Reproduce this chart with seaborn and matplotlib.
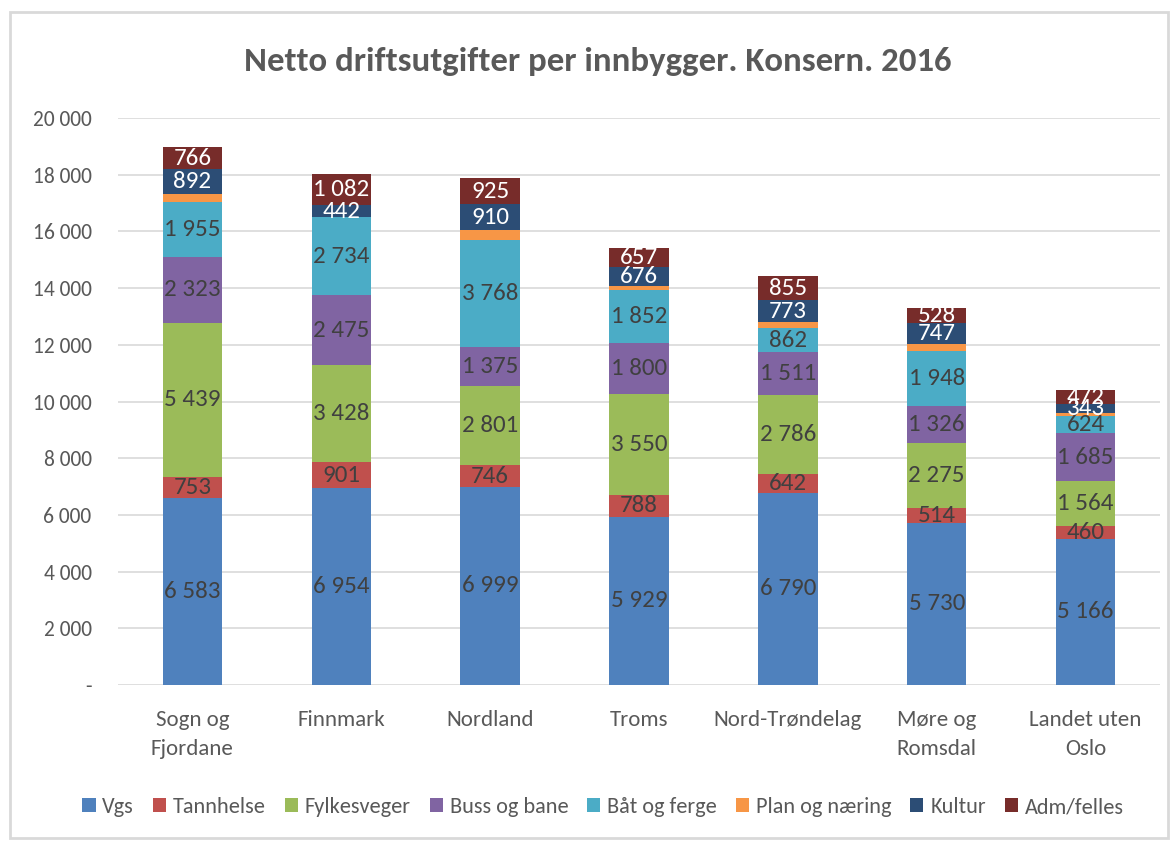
import numpy as np
import pandas as pd
import matplotlib
matplotlib.use("Agg")
import matplotlib.pyplot as plt
import seaborn as sns
from matplotlib.patches import Rectangle, Patch

# data
counties = ["Sogn og\nFjordane", "Finnmark", "Nordland", "Troms",
            "Nord-Trøndelag", "Møre og\nRomsdal", "Landet uten\nOslo"]
series = ["Vgs", "Tannhelse", "Fylkesveger", "Buss og bane",
          "Båt og ferge", "Plan og næring", "Kultur", "Adm/felles"]
vgs = [6583, 6954, 6999, 5929, 6790, 5730, 5166]
tannhelse = [753, 901, 746, 788, 642, 514, 460]
fylkesveger = [5439, 3428, 2801, 3550, 2786, 2275, 1564]
buss = [2323, 2475, 1375, 1800, 1511, 1326, 1685]
baat = [1955, 2734, 3768, 1852, 862, 1948, 624]
plan = [250, 0, 360, 150, 200, 230, 80]      # unlabeled, estimated
kultur = [892, 442, 910, 676, 773, 747, 343]
adm = [766, 1082, 925, 657, 855, 528, 472]
yticks = [0, 2000, 4000, 6000, 8000, 10000, 12000, 14000, 16000, 18000, 20000]

COLORS = ["#4F81BD", "#C0504D", "#9BBB59", "#8064A2",
          "#4BACC6", "#F79646", "#2C4D75", "#772C2A"]
LABEL_COLORS = ["#404040"] * 5 + [None, "white", "white"]
GREY = "#595959"

sns.set_theme(style="white")
plt.rcParams["font.family"] = ["Carlito", "DejaVu Sans"]

values = [vgs, tannhelse, fylkesveger, buss, baat, plan, kultur, adm]
df = pd.DataFrame({s: v for s, v in zip(series, values)})
df["county"] = counties


def fmt(v):
    return f"{v:,}".replace(",", " ")


fig = plt.figure(figsize=(11.71, 8.41), dpi=100)
ax = fig.add_axes([118 / 1171, 1 - 685 / 841, 1042 / 1171, 567 / 841])

# outer frame of the chart area
fig.patches.append(Rectangle((10 / 1171, 3 / 841), 1158 / 1171, 826 / 841,
                             transform=fig.transFigure, fill=False,
                             edgecolor="#d9d9d9", linewidth=2))

bottom = np.zeros(len(counties))
for i, s in enumerate(series):
    sns.barplot(data=df, x="county", y=s, color=COLORS[i], bottom=bottom,
                width=0.4, ax=ax, zorder=3, linewidth=0, saturation=1)
    if LABEL_COLORS[i]:
        for j, v in enumerate(df[s]):
            ax.text(j, bottom[j] + v / 2, fmt(v), ha="center", va="center",
                    fontsize=18, color=LABEL_COLORS[i], zorder=5)
    bottom = bottom + df[s].values

ax.set_ylim(0, 20000)
ax.set_xlim(-0.5, 6.5)
ax.set_yticks(yticks)
ax.set_yticklabels(["-" if t == 0 else fmt(t) for t in yticks])
ax.grid(axis="y", color="#d9d9d9", linewidth=1.2, zorder=0)
ax.grid(axis="x", visible=False)
for sp in ax.spines.values():
    sp.set_visible(False)
ax.tick_params(axis="y", labelsize=15.5, labelcolor=GREY, length=0, pad=19)
ax.tick_params(axis="x", labelsize=16.5, labelcolor=GREY, length=0, pad=18)
for t in ax.get_xticklabels():
    t.set_linespacing(1.55)
ax.set_xlabel("")
ax.set_ylabel("")

fig.text(598 / 1171, 1 - 62 / 841,
         "Netto driftsutgifter per innbygger. Konsern. 2016",
         ha="center", va="center", fontsize=25, fontweight="bold",
         color=GREY)

handles = [Patch(facecolor=c, edgecolor="none") for c in COLORS]
leg = fig.legend(handles, series, loc="center", ncol=8,
                 bbox_to_anchor=(603 / 1171, 1 - 807 / 841), frameon=False,
                 fontsize=16, handlelength=0.6, handleheight=0.6,
                 handletextpad=0.3, columnspacing=0.85)
for t in leg.get_texts():
    t.set_color(GREY)

fig.savefig("out.png", dpi=100)
